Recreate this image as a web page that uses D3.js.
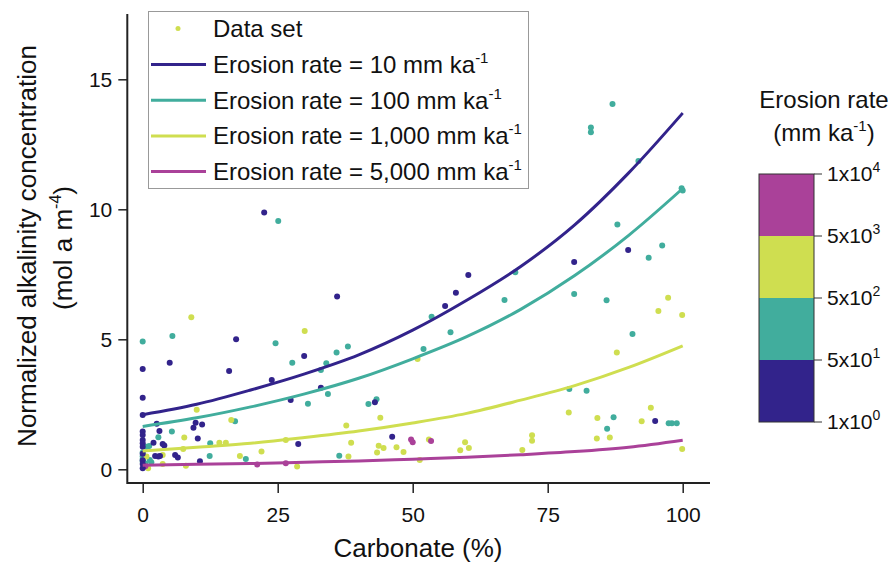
<!DOCTYPE html>
<html>
<head>
<meta charset="utf-8">
<script src="https://cdn.jsdelivr.net/npm/d3@7/dist/d3.min.js"></script>
<style>
  html, body { margin: 0; padding: 0; background: #fff; }
  svg { display: block; font-family: "Liberation Sans", Arial, sans-serif; }
</style>
</head>
<body>
<svg id="chart" width="891" height="565"></svg>
<script>
// ---------- data ----------
const classColors = ["#32238b", "#41ad9d", "#cfde50", "#aa4199"];
const colorbarTicks = [["1x10", "0"], ["5x10", "1"], ["5x10", "2"], ["5x10", "3"], ["1x10", "4"]];
const xTicks = [0, 25, 50, 75, 100];
const yTicks = [0, 5, 10, 15];

// points: [carbonate %, normalized alkalinity]
const pointsER10 = [[22.5,9.88],[36,6.65],[60.3,7.47],[58,6.79],[56,6.28],[79.9,7.97],[89.9,8.43],[0,3.86],[5,4.1],[17.3,5.0],[29.9,4.36],[16,3.78],[23.9,3.43],[0,2.75],[0,2.09],[27.4,2.67],[9.8,1.79],[11,1.72],[9.4,1.6],[2.6,1.75],[3.1,1.47],[0,1.45],[0,1.32],[0,1.13],[0,1.0],[0,0.87],[2,1.02],[3.7,0.97],[4,0.92],[10.2,1.18],[28.8,0.97],[2.3,0.51],[2.9,0.49],[3.2,0.51],[6,0.55],[6.5,0.45],[10.6,0.31],[0,0.04],[0,0.35],[33,3.14],[43,2.58],[46.2,1.25],[94.9,1.86],[0,0.6],[0,0.2]];
const pointsER100 = [[87,14.05],[83,13.15],[83,12.96],[91.8,11.86],[99.8,10.81],[100,10.72],[87.9,9.42],[96.2,8.61],[93.7,8.14],[79.9,6.74],[85.9,6.5],[69,7.58],[67,6.51],[53.5,5.87],[0,4.92],[5.5,5.13],[24.6,4.85],[27.7,4.1],[33,3.82],[30.6,2.52],[17.1,1.85],[5.4,1.45],[2.9,1.23],[1.2,0.9],[12.5,1.0],[12.4,0.51],[19.1,0.4],[0.7,0.87],[1.3,0.36],[1.6,0.27],[0,0.65],[0,0.5],[0,0.4],[0,0.3],[0.5,0.22],[57,5.27],[35.9,4.49],[38,4.72],[34,4.08],[52,4.63],[34.3,2.9],[41.8,2.51],[43.3,2.69],[36.4,0.52],[90.7,5.2],[79,3.09],[82.2,3.02],[87.2,2.0],[98,1.77],[97.4,1.77],[98.9,1.77],[86,1.56],[25.1,9.55]];
const pointsER1000 = [[97.3,6.6],[95.5,6.09],[99.9,5.93],[9,5.85],[30,5.32],[10,2.29],[16.4,1.9],[7.7,1.22],[14.2,1.02],[15.4,1.02],[7.5,0.78],[26.5,1.13],[22,0.68],[18,0.51],[3.7,0.55],[8,0.14],[28.6,0.11],[0.7,0.49],[1,0.04],[3.7,0.2],[50.9,4.24],[44,1.98],[37.7,1.68],[38.6,1.02],[53,1.15],[43.7,0.91],[43.4,0.65],[44.6,0.82],[47,0.85],[48.3,0.67],[59.7,1.04],[60.4,0.82],[58.8,0.73],[38.1,0.49],[51.3,0.36],[87.8,4.49],[78.9,2.18],[84.2,1.97],[94.1,2.37],[92.4,1.85],[84.1,1.18],[86.5,1.22],[72.1,1.31],[72.1,1.1],[70.3,0.74],[99.9,0.78]];
const pointsER5000 = [[21.2,0.18],[26.5,0.23],[49.7,1.15],[50,1.04],[53.4,1.09],[0.5,0.12]];

// model curves read at carbonate = 0,10,...,100
const curveX = [0, 10, 20, 30, 40, 50, 60, 70, 80, 90, 100];
const curveER10 = [2.1, 2.5, 3.05, 3.67, 4.4, 5.35, 6.5, 7.8, 9.4, 11.4, 13.7];
const curveER100 = [1.65, 1.98, 2.4, 2.9, 3.5, 4.25, 5.1, 6.15, 7.45, 9.0, 10.8];
const curveER1000 = [0.7, 0.85, 1.0, 1.22, 1.47, 1.78, 2.15, 2.66, 3.22, 3.92, 4.75];
const curveER5000 = [0.16, 0.19, 0.22, 0.27, 0.32, 0.39, 0.46, 0.56, 0.68, 0.85, 1.12];

const legendLabels = ["Erosion rate = 10 mm ka", "Erosion rate = 100 mm ka", "Erosion rate = 1,000 mm ka", "Erosion rate = 5,000 mm ka"];

// ---------- drawing ----------
const svg = d3.select("#chart");
const x = d3.scaleLinear().domain([0, 100]).range([142.7, 682.7]);
const y = d3.scaleLinear().domain([0, 15]).range([469.3, 79.3]);
const axisColor = "#222";

// points
const pointSets = [[pointsER100, 1], [pointsER1000, 2], [pointsER5000, 3], [pointsER10, 0]];
const gp = svg.append("g");
pointSets.forEach(([pts, c]) => {
  gp.selectAll(null).data(pts).enter().append("circle")
    .attr("cx", d => x(d[0])).attr("cy", d => y(d[1])).attr("r", 3)
    .attr("fill", classColors[c]);
});

// curves
const line = d3.line().x(d => x(d[0])).y(d => y(d[1])).curve(d3.curveMonotoneX);
[[curveER10, 0], [curveER100, 1], [curveER1000, 2], [curveER5000, 3]].forEach(([vals, c]) => {
  svg.append("path").datum(curveX.map((cx, i) => [cx, vals[i]]))
    .attr("d", line).attr("fill", "none").attr("stroke", classColors[c]).attr("stroke-width", 3);
});

// axes
const xAxis = svg.append("g").attr("transform", "translate(0,483)")
  .call(d3.axisBottom(x).tickValues(xTicks).tickSize(10).tickSizeOuter(0));
xAxis.select(".domain").remove();
xAxis.selectAll(".tick line").attr("stroke", axisColor).attr("stroke-width", 1.5);
xAxis.selectAll(".tick text").attr("font-size", 21).attr("fill", "#111").attr("dy", "1.25em")
  .attr("font-family", "Liberation Sans, Arial, sans-serif");
svg.append("line").attr("x1", 127.3).attr("x2", 710).attr("y1", 483).attr("y2", 483)
  .attr("stroke", axisColor).attr("stroke-width", 2);

const yAxis = svg.append("g").attr("transform", "translate(127.3,0)")
  .call(d3.axisLeft(y).tickValues(yTicks).tickSize(9).tickSizeOuter(0));
yAxis.select(".domain").remove();
yAxis.selectAll(".tick line").attr("stroke", axisColor).attr("stroke-width", 1.5);
yAxis.selectAll(".tick text").attr("font-size", 21).attr("fill", "#111").attr("x", -15)
  .attr("font-family", "Liberation Sans, Arial, sans-serif");
svg.append("line").attr("x1", 127.3).attr("x2", 127.3).attr("y1", 14).attr("y2", 484)
  .attr("stroke", axisColor).attr("stroke-width", 2);

// axis titles
svg.append("text").attr("x", 418).attr("y", 557).attr("text-anchor", "middle")
  .attr("font-size", 26).attr("fill", "#111").text("Carbonate (%)");
svg.append("text").attr("transform", "translate(36,246) rotate(-90)").attr("text-anchor", "middle")
  .attr("font-size", 26).attr("fill", "#111").text("Normalized alkalinity concentration");
const yl2 = svg.append("text").attr("transform", "translate(72,248) rotate(-90)").attr("text-anchor", "middle")
  .attr("font-size", 26).attr("fill", "#111");
yl2.append("tspan").text("(mol a m");
yl2.append("tspan").attr("font-size", 16).attr("dy", -11).text("-4");
yl2.append("tspan").attr("dy", 11).text(")");

// legend
const lg = svg.append("g");
lg.append("rect").attr("x", 148.5).attr("y", 11.5).attr("width", 380).attr("height", 177)
  .attr("fill", "#fff").attr("stroke", "#999").attr("stroke-width", 1);
lg.append("circle").attr("cx", 178).attr("cy", 28.5).attr("r", 2.5).attr("fill", classColors[2]);
lg.append("text").attr("x", 213).attr("y", 37).attr("font-size", 24).attr("fill", "#111").text("Data set");
legendLabels.forEach((lab, i) => {
  const cy = 64.5 + i * 35.7;
  lg.append("line").attr("x1", 151).attr("x2", 206).attr("y1", cy).attr("y2", cy)
    .attr("stroke", classColors[i]).attr("stroke-width", 3);
  const t = lg.append("text").attr("x", 213).attr("y", cy + 8.5).attr("font-size", 24).attr("fill", "#111");
  t.append("tspan").text(lab);
  t.append("tspan").attr("font-size", 15).attr("dy", -10).text("-1");
});

// colorbar
const cbTop = 174, cbBottom = 422, cbLeft = 759, cbRight = 814;
const cbScale = d3.scaleLinear().domain([0, 4]).range([cbBottom, cbTop]);
const cg = svg.append("g");
classColors.forEach((c, i) => {
  cg.append("rect").attr("x", cbLeft).attr("y", cbScale(i + 1)).attr("width", cbRight - cbLeft)
    .attr("height", cbScale(i) - cbScale(i + 1)).attr("fill", c);
});
cg.append("rect").attr("x", cbLeft).attr("y", cbTop).attr("width", cbRight - cbLeft).attr("height", cbBottom - cbTop)
  .attr("fill", "none").attr("stroke", "#333").attr("stroke-width", 1);
colorbarTicks.forEach((tk, i) => {
  const ty = cbScale(i);
  cg.append("line").attr("x1", cbRight).attr("x2", cbRight + 8).attr("y1", ty).attr("y2", ty)
    .attr("stroke", "#333").attr("stroke-width", 1);
  const t = cg.append("text").attr("x", 827).attr("y", ty + 7).attr("font-size", 21).attr("fill", "#111");
  t.append("tspan").text(tk[0]);
  t.append("tspan").attr("font-size", 14).attr("dy", -9).text(tk[1]);
});
svg.append("text").attr("x", 824).attr("y", 108).attr("text-anchor", "middle").attr("font-size", 24)
  .attr("fill", "#111").text("Erosion rate");
const cbt2 = svg.append("text").attr("x", 824).attr("y", 141).attr("text-anchor", "middle").attr("font-size", 24)
  .attr("fill", "#111");
cbt2.append("tspan").text("(mm ka");
cbt2.append("tspan").attr("font-size", 15).attr("dy", -10).text("-1");
cbt2.append("tspan").attr("dy", 10).text(")");
</script>
</body>
</html>
